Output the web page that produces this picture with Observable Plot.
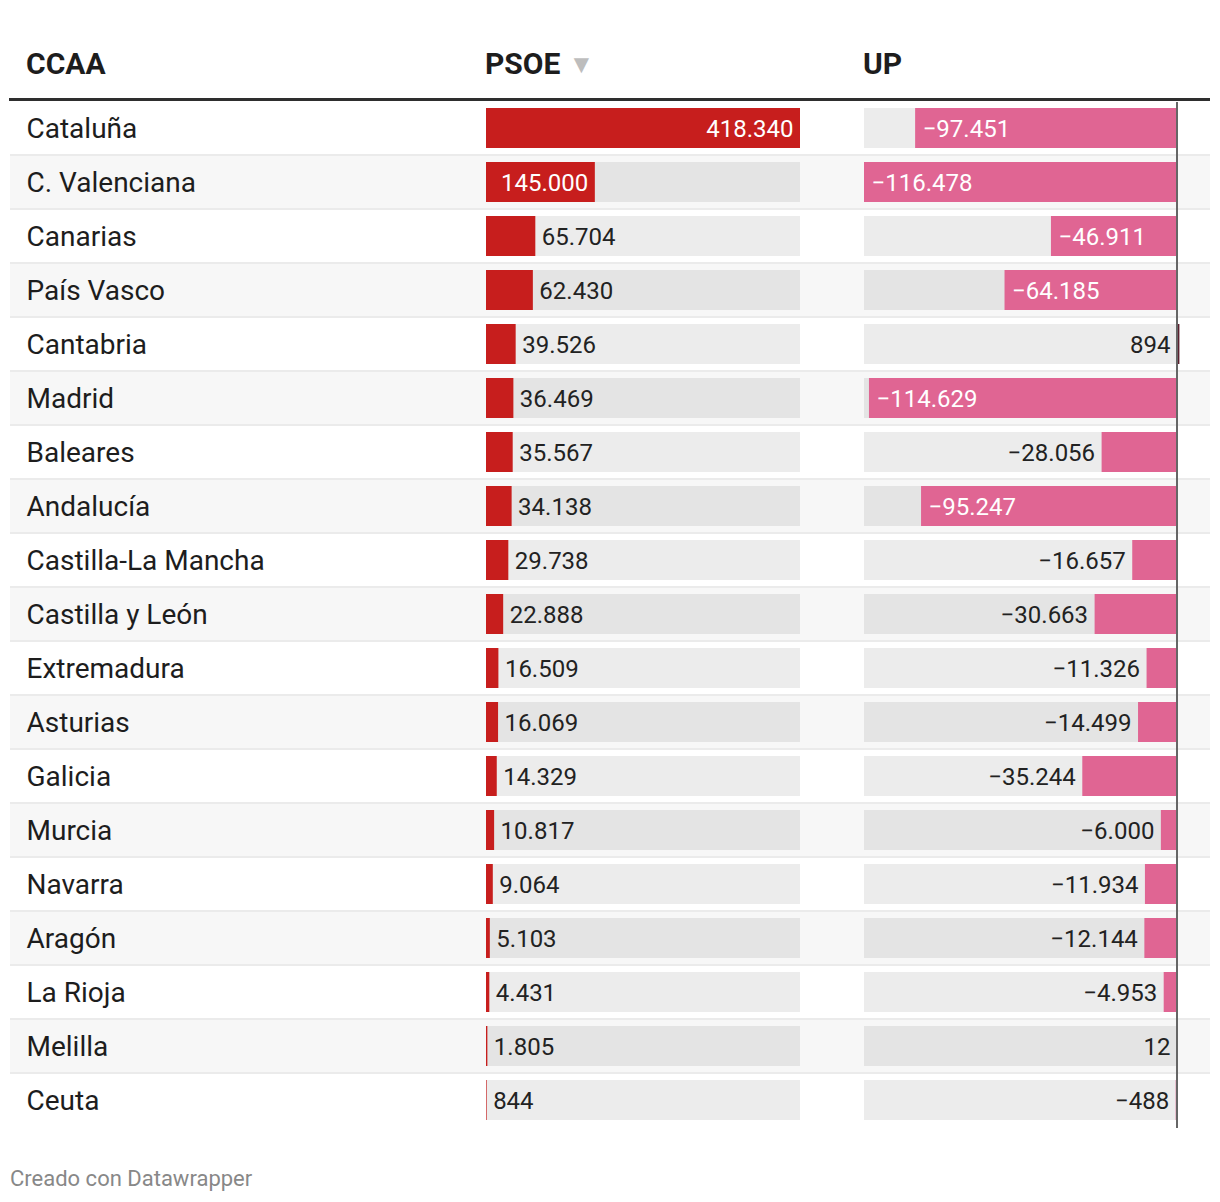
<!DOCTYPE html>
<html>
<head>
<meta charset="utf-8">
<script src="https://cdn.jsdelivr.net/npm/d3@7"></script>
<script src="https://cdn.jsdelivr.net/npm/@observablehq/plot@0.6"></script>
<style>
  html, body { margin: 0; padding: 0; background: #fff; }
  body { font-family: Roboto, "Noto Sans", sans-serif; }
  #wrap { position: relative; width: 1220px; height: 1202px; }
  .layer { position: absolute; left: 0; top: 0; }
  .hdr { position: absolute; top: 44px; font-weight: 700; font-size: 30px; color: #1d1d1d; line-height: 40px; white-space: nowrap; }
  .tri { color: #bdbdbd; font-size: 26px; font-weight: 400; margin-left: 8px; position: relative; top: -1px; }
  #rule { position: absolute; left: 9px; top: 98px; width: 1201px; height: 3px; background: #2e2e2e; }
  #foot { position: absolute; left: 10px; top: 1165px; font-size: 22px; color: #888; line-height: 28px; }
</style>
</head>
<body>
<div id="wrap">
  <div class="hdr" id="h0" style="left:26px"></div>
  <div class="hdr" id="h1" style="left:485px"></div>
  <div class="hdr" id="h2" style="left:863px"></div>
  <div id="rule"></div>
  <div id="foot">Creado con Datawrapper</div>
</div>
<script>
const headers = ["CCAA", "PSOE", "UP"];
const regions = ["Cataluña", "C. Valenciana", "Canarias", "País Vasco", "Cantabria", "Madrid", "Baleares", "Andalucía", "Castilla-La Mancha", "Castilla y León", "Extremadura", "Asturias", "Galicia", "Murcia", "Navarra", "Aragón", "La Rioja", "Melilla", "Ceuta"];
const psoe = [418340, 145000, 65704, 62430, 39526, 36469, 35567, 34138, 29738, 22888, 16509, 16069, 14329, 10817, 9064, 5103, 4431, 1805, 844];
const up = [-97451, -116478, -46911, -64185, 894, -114629, -28056, -95247, -16657, -30663, -11326, -14499, -35244, -6000, -11934, -12144, -4953, 12, -488];

const fmt = d3.formatLocale({decimal: ",", thousands: ".", grouping: [3], currency: ["", "€"], minus: "\u2212"}).format(",d");
const rows = regions.map((r, i) => ({region: r, i, psoe: psoe[i], up: up[i]}));
const maxP = d3.max(psoe);
const maxU = d3.max(up, Math.abs);

document.getElementById("h0").textContent = headers[0];
document.getElementById("h1").innerHTML = headers[1] + '<span class="tri">\u25BC</span>';
document.getElementById("h2").textContent = headers[2];

const W = 1220, H = 1140, MT = 102, MB = 12;
const yOpt = {type: "band", domain: regions, padding: 0, axis: null};
const font = {fontFamily: "Roboto, 'Noto Sans', sans-serif", fontWeight: 400, background: "transparent", overflow: "visible"};
const barInset = {insetTop: 6, insetBottom: 8};
const wrap = document.getElementById("wrap");

function add(svg) { svg.classList.add("layer"); wrap.appendChild(svg); }

// Base: row backgrounds and region names
add(Plot.plot({
  width: W, height: H, marginTop: MT, marginBottom: MB, marginLeft: 10, marginRight: 10,
  style: font, y: yOpt,
  marks: [
    Plot.cell(rows.filter(d => d.i < rows.length - 1), {y: "region", fill: "#ebebeb"}),
    Plot.cell(rows.filter(d => d.i % 2 === 0), {y: "region", fill: "#ffffff", insetBottom: 2}),
    Plot.cell(rows.filter(d => d.i % 2 === 1), {y: "region", fill: "#f7f7f7", insetBottom: 2}),
    Plot.text(rows, {y: "region", text: "region", frameAnchor: "left", dx: 16, dy: 0, fontSize: 28, fill: "#1d1d1d"})
  ]
}));

// PSOE column
const inP = d => d.psoe / maxP > 0.3;
add(Plot.plot({
  width: W, height: H, marginTop: MT, marginBottom: MB, marginLeft: 486, marginRight: W - 800,
  style: font, y: yOpt, x: {domain: [0, maxP], axis: null},
  marks: [
    Plot.barX(rows, {y: "region", x1: 0, x2: maxP, fill: "#000", fillOpacity: 0.075, ...barInset}),
    Plot.barX(rows, {y: "region", x1: 0, x2: "psoe", fill: "#c71e1d", ...barInset}),
    Plot.text(rows.filter(inP), {y: "region", x: "psoe", text: d => fmt(d.psoe), textAnchor: "end", dx: -7, fontSize: 24, fill: "#ffffff"}),
    Plot.text(rows.filter(d => !inP(d)), {y: "region", x: "psoe", text: d => fmt(d.psoe), textAnchor: "start", dx: 6, fontSize: 24, fill: "#222"})
  ]
}));

// UP column
const inU = d => d.up < 0 && -d.up / maxU > 0.32;
add(Plot.plot({
  width: W, height: H, marginTop: MT, marginBottom: MB, marginLeft: 864, marginRight: W - 1177,
  style: font, y: yOpt, x: {domain: [-maxU, 0], axis: null},
  marks: [
    Plot.barX(rows, {y: "region", x1: -maxU, x2: 0, fill: "#000", fillOpacity: 0.075, ...barInset}),
    Plot.barX(rows.filter(d => d.up < 0), {y: "region", x1: 0, x2: "up", fill: "#e06593", ...barInset}),
    Plot.barX(rows.filter(d => d.up >= 0), {y: "region", x1: 0, x2: "up", fill: "#5a1f2e", ...barInset}),
    Plot.ruleX([0], {stroke: "#666", strokeWidth: 2, dx: -0.5}),
    Plot.text(rows.filter(inU), {y: "region", x: "up", text: d => fmt(d.up), textAnchor: "start", dx: 7, fontSize: 24, fill: "#ffffff"}),
    Plot.text(rows.filter(d => !inU(d)), {y: "region", x: d => Math.min(d.up, 0), text: d => fmt(d.up), textAnchor: "end", dx: -7, fontSize: 24, fill: "#222"})
  ]
}));
</script>
</body>
</html>
